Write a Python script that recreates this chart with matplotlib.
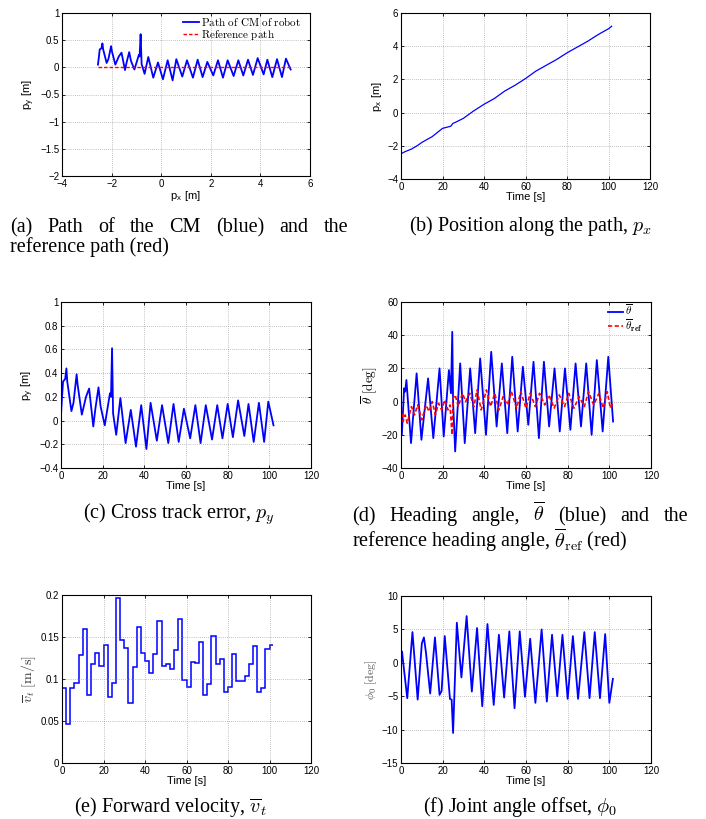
"""Six-panel path following results: CM path, p_x, p_y, heading, velocity, joint offset."""
import matplotlib

matplotlib.use("Agg")
import matplotlib.pyplot as plt
from matplotlib.ticker import FuncFormatter

FIG_W, FIG_H = 706, 819
BLUE = "#0000ff"
RED = "#ff0000"

# (a) path of the CM: turning points of the curve, p_x / p_y in metres
PX_PATH = [-2.55, -2.51, -2.48, -2.41, -2.37, -2.34, -2.20, -2.13, -2.02, -1.99,
           -1.85, -1.71, -1.60, -1.46, -1.39, -1.29, -1.22, -1.08, -0.90, -0.87,
           -0.83, -0.79, -0.67, -0.52, -0.32, -0.13, 0.07, 0.26, 0.46, 0.61,
           0.85, 1.04, 1.28, 1.47, 1.67, 1.86, 2.10, 2.29, 2.49, 2.68,
           2.92, 3.11, 3.31, 3.50, 3.70, 3.89, 4.13, 4.28, 4.48, 4.67,
           4.87, 5.03, 5.22]
REF_PX = [-2.55, 5.22]
REF_PY = [0.0, 0.0]

# (c) cross track error over time (same samples as the path above)
T_PY = [0, 0.5, 1, 2, 2.6, 3, 5, 6, 7.5, 8,
        10, 12, 13.5, 15.5, 16.5, 18, 19, 21, 23.5, 24,
        24.5, 25, 26.5, 28.5, 31, 33.5, 36, 38.5, 41, 43,
        46, 48.5, 51.5, 54, 56.5, 59, 62, 64.5, 67, 69.5,
        72.5, 75, 77.5, 80, 82.5, 85, 88, 90, 92.5, 95,
        97.5, 99.5, 102]
PY = [0.05, 0.2, 0.33, 0.35, 0.44, 0.33, 0.08, 0.15, 0.39, 0.3,
      0.05, 0.2, 0.27, -0.05, 0.1, 0.28, 0.12, -0.04, 0.23, 0.2,
      0.61, 0.06, -0.12, 0.19, -0.19, 0.09, -0.22, 0.13, -0.24, 0.15,
      -0.17, 0.13, -0.19, 0.14, -0.18, 0.1, -0.15, 0.13, -0.19, 0.13,
      -0.16, 0.13, -0.15, 0.14, -0.14, 0.17, -0.13, 0.14, -0.18, 0.15,
      -0.18, 0.16, -0.04]

# (b) position along the path
T_PX = [0, 2, 5, 8, 10, 15, 20, 24, 25, 26, 30, 35, 40, 45, 50, 55, 60,
        65, 70, 75, 80, 85, 90, 95, 100, 101.5]
PX = [-2.48, -2.35, -2.2, -1.98, -1.8, -1.45, -0.95, -0.82, -0.65, -0.6, -0.35,
      0.1, 0.5, 0.85, 1.3, 1.65, 2.05, 2.5, 2.85, 3.2, 3.6, 3.95, 4.3, 4.7,
      5.05, 5.2]

# (d) heading angle and its reference, degrees
T_THETA = [0, 0.4, 1.5, 2.0, 2.6, 4.8, 7.5, 9.8, 13.0, 15.5,
           18.5, 20.5, 23.0, 24.0, 24.6, 25.0, 26.0, 28.4, 30.6, 33.2,
           35.6, 38.0, 40.8, 43.3, 45.9, 48.4, 51.0, 53.4, 56.0, 58.5,
           61.1, 63.6, 66.2, 68.6, 71.1, 73.7, 76.2, 78.7, 81.3, 83.8,
           86.4, 88.9, 91.5, 94.0, 96.8, 99.5, 101.8]
THETA = [-5, -20, 8, 6, 13, -25, 17, -23, 14, -22,
         20, -21, 19, 5, 42, 0, -30, 23, -25, 20,
         -19, 26, -20, 30, -15, 23, -19, 27, -18, 21,
         -14, 24, -22, 24, -15, 20, -18, 20, -17, 23,
         -15, 23, -20, 25, -18, 27, -12]
T_THETA_REF = [0, 1, 2, 3, 5, 6.5, 8, 10, 12, 13.5,
               15, 16.5, 18, 19.5, 21, 22.5, 23.5, 24.5, 25, 26,
               27.5, 29.5, 31, 33, 35, 36.5, 38.5, 41, 43, 45,
               47, 49, 51, 53, 55.5, 57.5, 60, 62, 64.5, 66.5,
               69, 71, 73.5, 76, 78.5, 80.5, 83, 85.5, 88, 90,
               92.5, 95, 97, 99, 100.5, 102]
THETA_REF = [-3, -12, -8, -13, -3, -8, -2, -11, -2, -6,
             0, -8, -1, -5, 1, -5, -2, -20, 2, 4,
             -3, 5, 0, 5, -3, 7, -5, 7, -3, 5,
             -5, 3, -2, 6, -4, 6, -4, 5, -3, 5,
             -2, 4, -4, 4, -3, 5, -4, 3, -3, 6,
             -2, 5, -4, 6, -4, 0]

# (e) forward velocity, piecewise constant
VT_EDGES = [0, 2, 4, 6, 8, 10, 12, 14, 16, 18, 20, 22, 24, 26, 28, 30, 32, 34,
            36, 38, 40, 42, 44, 46, 48, 50, 52, 54, 56, 58, 60, 62, 64, 66, 68,
            70, 72, 74, 76, 78, 80, 82, 84, 86, 88, 90, 92, 94, 96, 98, 100, 101.5]
VT = [0.089, 0.046, 0.089, 0.095, 0.128, 0.159, 0.081, 0.118, 0.131, 0.116,
      0.140, 0.078, 0.095, 0.196, 0.147, 0.137, 0.071, 0.114, 0.162, 0.131,
      0.121, 0.107, 0.130, 0.169, 0.116, 0.118, 0.112, 0.135, 0.171, 0.099,
      0.090, 0.120, 0.119, 0.144, 0.081, 0.094, 0.151, 0.118, 0.124, 0.084,
      0.091, 0.130, 0.098, 0.098, 0.104, 0.118, 0.139, 0.084, 0.089, 0.136,
      0.140]

# (f) joint angle offset, degrees
T_PHI = [0, 0.5, 1.0, 3.0, 5.5, 8.0, 10.0, 11.0, 12.0, 14.0,
         16.3, 18.5, 19.5, 21.0, 23.5, 24.3, 25.0, 26.8, 29.0, 31.5,
         34.0, 36.5, 39.0, 41.5, 44.5, 47.0, 49.5, 52.0, 54.5, 57.0,
         59.5, 62.0, 64.5, 67.5, 70.0, 72.5, 75.0, 77.5, 80.0, 82.5,
         85.0, 88.0, 90.5, 93.0, 95.5, 98.0, 100.0, 101.7]
PHI = [0.0, 1.7, 0.2, -5.3, 4.6, -5.5, 2.9, 3.8, 1.5, -4.6,
       3.8, -4.8, -4.2, 4.0, -5.4, -5.5, -10.5, 6.0, -2.2, 7.0,
       -4.3, 5.2, -6.5, 5.8, -6.3, 4.2, -5.2, 4.7, -6.8, 4.7,
       -5.1, 3.6, -6.0, 5.0, -5.8, 4.2, -5.0, 4.2, -5.4, 4.0,
       -5.4, 4.6, -5.3, 4.6, -5.3, 4.3, -6.0, -2.4]

TIME_TICKS = [0, 20, 40, 60, 80, 100, 120]
CAPTION_FONT = {"family": ["Liberation Serif", "DejaVu Serif"], "size": 14.5}
TICK_FMT = FuncFormatter(lambda v, _: f"{v:g}".replace("-", "\u2212"))


def configure_matplotlib() -> None:
    plt.rcParams["font.family"] = ["Liberation Sans", "DejaVu Sans"]
    plt.rcParams["mathtext.fontset"] = "cm"
    plt.rcParams["axes.linewidth"] = 0.8
    plt.rcParams["lines.solid_joinstyle"] = "round"
    plt.rcParams["lines.dash_joinstyle"] = "round"


def px_box(left, top, right, bottom):
    return [left / FIG_W, 1 - bottom / FIG_H, (right - left) / FIG_W, (bottom - top) / FIG_H]


def style_axes(ax, xlim, ylim, xticks, yticks):
    ax.set_xlim(xlim)
    ax.set_ylim(ylim)
    ax.set_xticks(xticks)
    ax.set_yticks(yticks)
    ax.xaxis.set_major_formatter(TICK_FMT)
    ax.yaxis.set_major_formatter(TICK_FMT)
    ax.grid(True, color="#8a8a8a", linestyle=(0, (1, 2)), linewidth=0.5)
    ax.tick_params(direction="in", length=2.5, width=0.6, top=True, right=True,
                   labelsize=7, pad=2)


def caption(fig, x, y, text, ha="center"):
    fig.text(x / FIG_W, 1 - y / FIG_H, text, ha=ha, va="baseline", **CAPTION_FONT)


def justified(fig, words, x0, x1, y):
    texts = [fig.text(0, 1 - y / FIG_H, w, va="baseline", **CAPTION_FONT) for w in words]
    renderer = fig.canvas.get_renderer()
    widths = [t.get_window_extent(renderer).width for t in texts]
    gap = (x1 - x0 - sum(widths)) / (len(words) - 1)
    x = x0
    for t, w in zip(texts, widths):
        t.set_x(x / FIG_W)
        x += w + gap


def small_legend(ax, anchor):
    ax.legend(loc="upper left", bbox_to_anchor=anchor, frameon=False, fontsize=8,
              handlelength=1.4, handletextpad=0.2, labelspacing=0.0, borderpad=0,
              borderaxespad=0)


def main() -> int:
    configure_matplotlib()
    fig = plt.figure(figsize=(FIG_W / 100, FIG_H / 100), dpi=100)

    # (a) path of the CM
    ax = fig.add_axes(px_box(62, 13, 310, 176))
    ax.plot(PX_PATH, PY, color=BLUE, lw=1.3, label=r"$\mathrm{Path\ of\ CM\ of\ robot}$")
    ax.plot(REF_PX, REF_PY, color=RED, lw=1.0, ls=(0, (2.5, 1.5)), label=r"$\mathrm{Reference\ path}$")
    style_axes(ax, (-4, 6), (-2, 1), [-4, -2, 0, 2, 4, 6], [-2, -1.5, -1, -0.5, 0, 0.5, 1])
    ax.set_xlabel(r"p$_\mathregular{x}$ [m]", fontsize=8, labelpad=0.5)
    ax.set_ylabel(r"p$_\mathregular{y}$ [m]", fontsize=8, labelpad=2)
    small_legend(ax, (0.488, 0.99))

    # (b) position along the path
    ax = fig.add_axes(px_box(401, 13, 650, 179))
    ax.plot(T_PX, PX, color=BLUE, lw=0.9)
    style_axes(ax, (0, 120), (-4, 6), TIME_TICKS, [-4, -2, 0, 2, 4, 6])
    ax.set_xlabel("Time [s]", fontsize=8, labelpad=0.5)
    ax.set_ylabel(r"p$_\mathregular{x}$ [m]", fontsize=8, labelpad=2)

    # (c) cross track error
    ax = fig.add_axes(px_box(61, 302, 311, 468))
    ax.plot(T_PY, PY, color=BLUE, lw=1.3)
    style_axes(ax, (0, 120), (-0.4, 1), TIME_TICKS, [-0.4, -0.2, 0, 0.2, 0.4, 0.6, 0.8, 1])
    ax.set_xlabel("Time [s]", fontsize=8, labelpad=0.5)
    ax.set_ylabel(r"p$_\mathregular{y}$ [m]", fontsize=8, labelpad=2)

    # (d) heading angle
    ax = fig.add_axes(px_box(401, 302, 651, 468))
    ax.plot(T_THETA, THETA, color=BLUE, lw=1.3, label=r"$\overline{\theta}$")
    ax.plot(T_THETA_REF, THETA_REF, color=RED, lw=1.2, ls=(0, (2.5, 1.5)),
            label=r"$\overline{\theta}_\mathbf{ref}$")
    style_axes(ax, (0, 120), (-40, 60), TIME_TICKS, [-40, -20, 0, 20, 40, 60])
    ax.set_xlabel("Time [s]", fontsize=8, labelpad=0.5)
    ax.set_ylabel(r"$\overline{\theta}\ [\mathrm{deg}]$", fontsize=9.5, labelpad=2)
    small_legend(ax, (0.826, 0.995))

    # (e) forward velocity
    ax = fig.add_axes(px_box(62, 595, 311, 763))
    ax.stairs(VT, VT_EDGES, baseline=None, color=BLUE, lw=1.1)
    style_axes(ax, (0, 120), (0, 0.2), TIME_TICKS, [0, 0.05, 0.1, 0.15, 0.2])
    ax.set_xlabel("Time [s]", fontsize=8, labelpad=0.5)
    ax.set_ylabel(r"$\overline{v}_t\ [\mathrm{m/s}]$", fontsize=10, labelpad=2, color="#333333")

    # (f) joint angle offset
    ax = fig.add_axes(px_box(401, 596, 651, 763))
    ax.plot(T_PHI, PHI, color=BLUE, lw=1.3)
    style_axes(ax, (0, 120), (-15, 10), TIME_TICKS, [-15, -10, -5, 0, 5, 10])
    ax.set_xlabel("Time [s]", fontsize=8, labelpad=0.5)
    ax.set_ylabel(r"$\phi_0\ [\mathrm{deg}]$", fontsize=8.5, labelpad=2, color="#555555")

    # captions
    justified(fig, ["(a)", "Path", "of", "the", "CM", "(blue)", "and", "the"], 10, 348, 232)
    caption(fig, 10, 252, "reference path (red)", ha="left")
    caption(fig, 531, 231, r"(b) Position along the path, $p_x$")
    caption(fig, 179, 519, r"(c) Cross track error, $p_y$")
    justified(fig, ["(d)", "Heading", "angle,", r"$\overline{\theta}$", "(blue)", "and", "the"],
              352, 688, 521)
    caption(fig, 352, 547, r"reference heading angle, $\overline{\theta}_\mathrm{ref}$ (red)", ha="left")
    caption(fig, 170, 812, r"(e) Forward velocity, $\overline{v}_t$")
    caption(fig, 520, 812, r"(f) Joint angle offset, $\phi_0$")

    fig.savefig("out.png", dpi=100)
    plt.close(fig)
    return 0


if __name__ == "__main__":
    raise SystemExit(main())
